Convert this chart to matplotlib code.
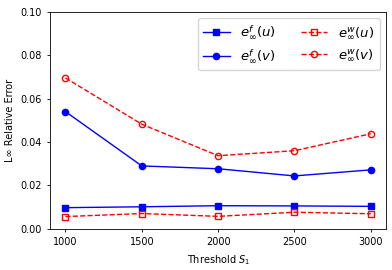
import matplotlib
matplotlib.use("Agg")
import matplotlib.pyplot as plt

thresholds = [1000, 1500, 2000, 2500, 3000]
ef_u = [0.0098, 0.0102, 0.0107, 0.0106, 0.0104]
ef_v = [0.0540, 0.0290, 0.0277, 0.0244, 0.0272]
ew_u = [0.0057, 0.0071, 0.0058, 0.0077, 0.0070]
ew_v = [0.0695, 0.0482, 0.0337, 0.0360, 0.0438]

fs = 7
fig = plt.figure(figsize=(3.92, 2.70), dpi=100)
ax = fig.add_axes([0.128, 0.152, 0.857, 0.805])

ax.plot(thresholds, ef_u, 'b-', marker='s', markersize=4.5, linewidth=1, label=r'$e^f_\infty(u)$')
ax.plot(thresholds, ef_v, 'b-', marker='o', markersize=4.5, linewidth=1, label=r'$e^f_\infty(v)$')
ax.plot(thresholds, ew_u, 'r--', marker='s', markersize=4.5, linewidth=1, markerfacecolor='none', label=r'$e^w_\infty(u)$')
ax.plot(thresholds, ew_v, 'r--', marker='o', markersize=4.5, linewidth=1, markerfacecolor='none', label=r'$e^w_\infty(v)$')

ax.set_ylim(0, 0.10)
ax.set_xticks(thresholds)
ax.set_yticks([0.0, 0.02, 0.04, 0.06, 0.08, 0.10])
ax.set_yticklabels(['0.00', '0.02', '0.04', '0.06', '0.08', '0.10'])
ax.tick_params(labelsize=fs, length=2.5, width=0.6)
for s in ax.spines.values():
    s.set_linewidth(0.6)
ax.set_xlabel(r'Threshold $S_1$', fontsize=fs)
ax.set_ylabel('L∞ Relative Error', fontsize=fs)
ax.legend(ncol=2, loc='upper right', fontsize=9.5, handlelength=2.0, columnspacing=1.9,
          borderaxespad=0.5)

fig.savefig('out.png', dpi=100)
